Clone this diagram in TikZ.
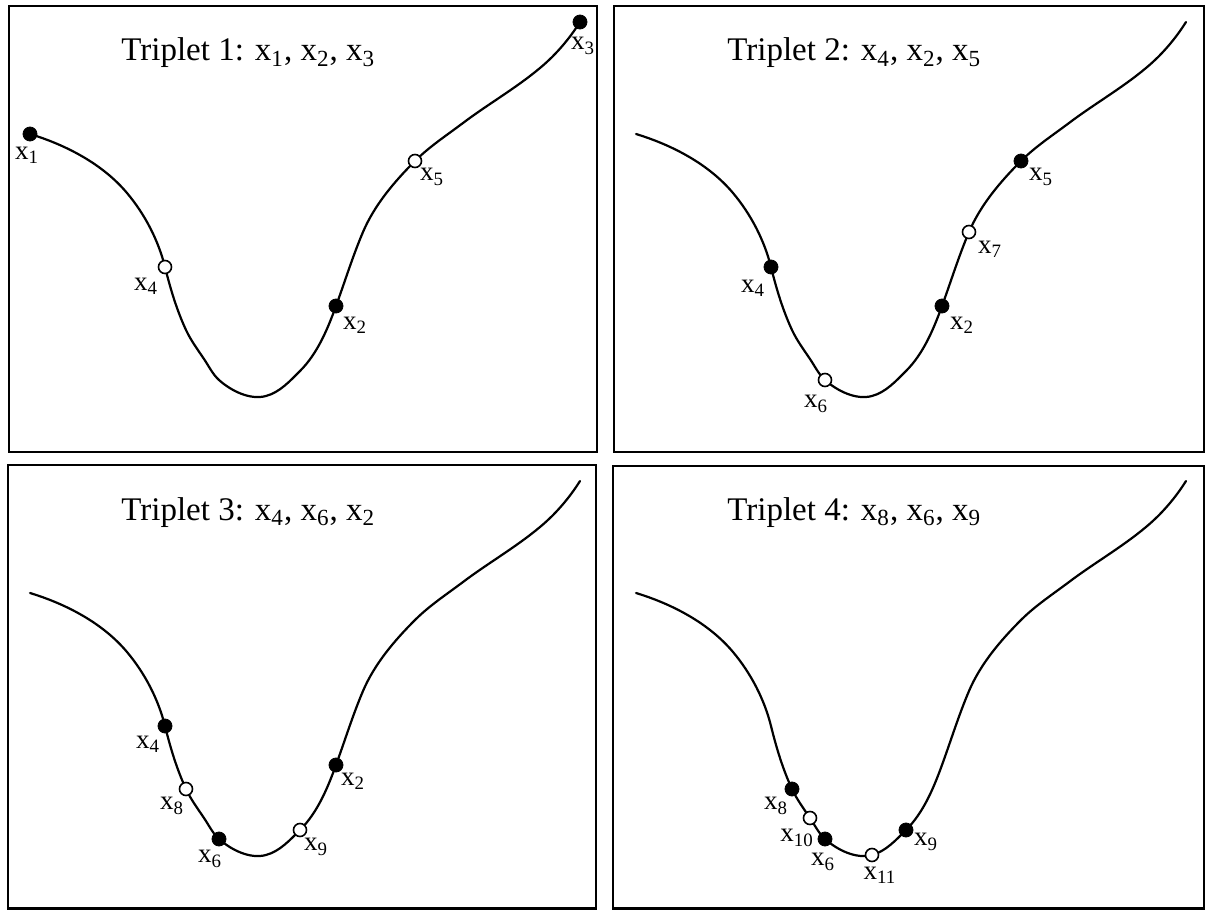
\documentclass[tikz,border=0pt]{standalone}
\usepackage{fontspec}
\setmainfont{Liberation Serif}
\usetikzlibrary{positioning}

\newcommand{\xs}[1]{x\textsubscript{#1}}

\tikzset{
  panel/.style={draw, line width=1.2pt},
  valley/.style={line width=1.1pt, line cap=round},
  ptfull/.style={circle, draw=black, fill=black, minimum size=7pt, inner sep=0pt},
  ptopen/.style={circle, draw=black, fill=white, line width=0.8pt, minimum size=6.5pt, inner sep=0pt},
  lab/.style={font=\fontsize{13.5}{16}\selectfont, inner sep=0pt},
  ttl/.style={font=\fontsize{16.5}{20}\selectfont, anchor=base west, inner sep=0pt}
}

\begin{document}
\begin{tikzpicture}[x=0.5pt, y=-0.5pt]
  \useasboundingbox (0,0) rectangle (1207,910);

  % Frames
  \draw[panel] (9,6) rectangle (597,452);
  \draw[panel] (614,6) rectangle (1204,452);
  \draw[panel] (8,465) rectangle (596,908.5);
  \draw[panel] (613,466) rectangle (1204,908.5);

  % Same valley in every frame
  \foreach \dx/\dy in {0/0, 606/0, 0/459, 606/459} {
    \draw[valley, shift={(\dx,\dy)}] (30,134)
      .. controls (66,145) and (102.7,164) .. (127,193)
      .. controls (144.8,214.2) and (158.3,240.1) .. (165,267)
      .. controls (170.3,288.4) and (176.7,310) .. (186,330)
      .. controls (190.8,340.3) and (197.6,349.5) .. (204,359)
      .. controls (208.8,366.1) and (212.6,374.2) .. (219,380)
      .. controls (231.3,391) and (250.1,400.3) .. (266,396)
      .. controls (279.6,392.4) and (290,381) .. (300,371)
      .. controls (317.5,353.5) and (327.5,329.3) .. (336,306)
      .. controls (345,281.3) and (352.7,256.2) .. (363,232)
      .. controls (374.5,205) and (394.3,181.7) .. (415,161)
      .. controls (429.4,146.6) and (446.7,135.3) .. (463,123)
      .. controls (488.2,104) and (515.9,88.2) .. (540,68)
      .. controls (555.6,55) and (569.2,39.2) .. (580,22);
  }

  % Triplet 1
  \begin{scope}
    \node[ttl] (t1) at (121,61) {Triplet 1: \xs{1}, \xs{2}, \xs{3}};
    \foreach \n/\px/\py/\kind/\lx/\ly in {1/30/134/ptfull/27/155, 4/165/267/ptopen/146/286,
        2/336/306/ptfull/355/325, 5/415/161/ptopen/432/177, 3/580/22/ptfull/583/46} {
      \node[\kind] (a\n) at (\px,\py) {};
      \node[lab] (la\n) at (\lx,\ly) {\xs{\n}};
    }
  \end{scope}

  % Triplet 2
  \begin{scope}[shift={(606,0)}]
    \node[ttl] (t2) at (121,61) {Triplet 2: \xs{4}, \xs{2}, \xs{5}};
    \foreach \n/\px/\py/\kind/\lx/\ly in {4/165/267/ptfull/147/288, 6/219/380/ptopen/210/404,
        2/336/306/ptfull/356/325, 7/363/232/ptopen/384/249, 5/415/161/ptfull/435/177} {
      \node[\kind] (b\n) at (\px,\py) {};
      \node[lab] (lb\n) at (\lx,\ly) {\xs{\n}};
    }
  \end{scope}

  % Triplet 3
  \begin{scope}[shift={(0,459)}]
    \node[ttl] (t3) at (121,61) {Triplet 3: \xs{4}, \xs{6}, \xs{2}};
    \foreach \n/\px/\py/\kind/\lx/\ly in {4/165/267/ptfull/148/285, 8/186/330/ptopen/172/347,
        6/219/380/ptfull/210/400, 9/300/371/ptopen/316/388, 2/336/306/ptfull/353/322} {
      \node[\kind] (c\n) at (\px,\py) {};
      \node[lab] (lc\n) at (\lx,\ly) {\xs{\n}};
    }
  \end{scope}

  % Triplet 4
  \begin{scope}[shift={(606,459)}]
    \node[ttl] (t4) at (121,61) {Triplet 4: \xs{8}, \xs{6}, \xs{9}};
    \foreach \n/\px/\py/\kind/\lx/\ly in {8/186/330/ptfull/170/347, 10/204/359/ptopen/191/379,
        6/219/380/ptfull/217/403, 11/266/396/ptopen/274/416, 9/300/371/ptfull/320/383} {
      \node[\kind] (d\n) at (\px,\py) {};
      \node[lab] (ld\n) at (\lx,\ly) {\xs{\n}};
    }
  \end{scope}
\end{tikzpicture}
\end{document}
